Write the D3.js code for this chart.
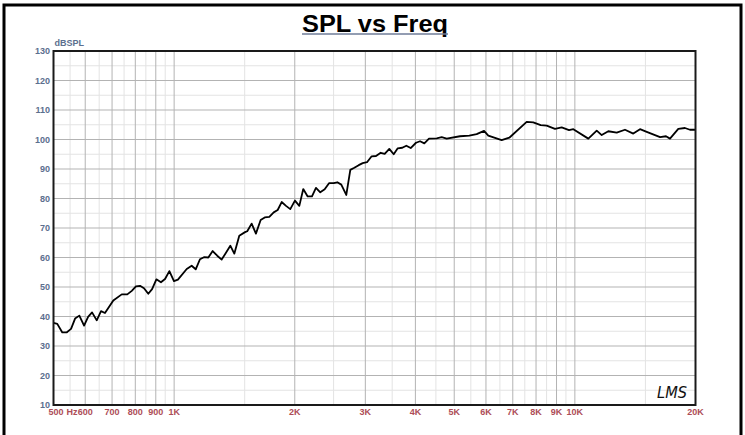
<!DOCTYPE html>
<html>
<head>
<meta charset="utf-8">
<script src="https://cdn.jsdelivr.net/npm/d3@7"></script>
<style>
  body { margin: 0; background: #fff; }
  svg { display: block; font-family: "Liberation Sans", Arial, sans-serif; }
</style>
</head>
<body>
<svg id="chart" width="745" height="435"></svg>
<script>
const freq = [500,511,526,539,553,566,580,596,610,624,
  641,657,672,705,740,764,784,803,822,841,
  862,881,903,927,949,973,999,1022,1075,1106,
  1132,1160,1187,1217,1248,1281,1314,1347,1381,1413,
  1454,1503,1522,1561,1600,1644,1683,1728,1772,1813,
  1855,1902,1949,2002,2053,2100,2154,2208,2259,2316,
  2375,2435,2502,2554,2613,2689,2752,2816,2888,2955,
  3029,3111,3190,3277,3353,3443,3531,3614,3710,3797,
  3893,4014,4108,4211,4325,4521,4653,4788,5168,5452,
  5688,5934,6081,6567,6861,7581,7874,8217,8505,8920,
  9271,9668,9912,10804,11338,11668,12119,12718,13338,13990,
  14540,15110,16316,16881,17273,18118,18822,19373,20000];
const spl = [37.8,37.5,34.6,34.6,35.8,39.3,40.3,36.9,39.9,41.4,
  38.7,41.8,41.2,45.4,47.5,47.5,48.7,50.2,50.4,49.6,
  47.7,49.3,52.6,51.6,52.7,55.4,52.0,52.5,56.1,57.2,
  56.0,59.4,60.1,60.0,62.2,60.6,59.3,61.6,64.0,61.3,
  67.4,68.6,68.9,71.5,68.1,72.7,73.6,73.8,75.3,76.1,
  78.8,77.5,76.4,79.3,77.5,83.2,80.7,80.7,83.6,82.1,
  83.1,85.2,85.2,85.5,84.7,81.2,89.7,90.4,91.3,92.0,
  92.3,94.3,94.4,95.5,95.1,96.8,95.0,97.0,97.2,97.9,
  97.1,98.9,99.4,98.7,100.3,100.4,100.8,100.3,101.1,101.3,
  101.8,102.9,101.3,99.8,100.6,106.0,105.8,104.9,104.7,103.6,
  104.1,103.2,103.5,100.3,103.0,101.5,102.8,102.3,103.3,102.0,
  103.5,102.6,100.8,101.1,100.3,103.6,103.9,103.3,103.3];

const xMajor = [500,600,700,800,900,1000,2000,3000,4000,5000,6000,7000,8000,9000,10000,20000];
const xLabels = ["500","600","700","800","900","1K","2K","3K","4K","5K","6K","7K","8K","9K","10K","20K"];
const xMinor = [550,650,750,850,950,1500,2500,3500,4500,5500,6500,7500,8500,9500,15000];
const yMajor = d3.range(10, 131, 10);
const yMinor = d3.range(15, 130, 10);

const svg = d3.select("#chart");
const plotL = 53.5, plotR = 695.5, plotT = 51, plotB = 405;

const x = d3.scaleLog().domain([500, 20000]).range([plotL, plotR]);
const y = d3.scaleLinear().domain([10, 130]).range([plotB, plotT]);

// outer frame
svg.append("rect")
    .attr("x", 4).attr("y", 5)
    .attr("width", 737).attr("height", 440)
    .attr("fill", "none")
    .attr("stroke", "#000")
    .attr("stroke-width", 3);

// grid
const grid = svg.append("g");
grid.selectAll(".vminor").data(xMinor).join("line")
    .attr("x1", d => x(d)).attr("x2", d => x(d))
    .attr("y1", plotT).attr("y2", plotB)
    .attr("stroke", "#e3e3e3");
grid.selectAll(".hminor").data(yMinor).join("line")
    .attr("x1", plotL).attr("x2", plotR)
    .attr("y1", d => y(d)).attr("y2", d => y(d))
    .attr("stroke", "#e3e3e3");
grid.selectAll(".vmajor").data(xMajor).join("line")
    .attr("x1", d => x(d)).attr("x2", d => x(d))
    .attr("y1", plotT).attr("y2", plotB)
    .attr("stroke", "#b3b3b3");
grid.selectAll(".hmajor").data(yMajor).join("line")
    .attr("x1", plotL).attr("x2", plotR)
    .attr("y1", d => y(d)).attr("y2", d => y(d))
    .attr("stroke", "#b3b3b3");

// curve
const line = d3.line()
    .x((d, i) => x(freq[i]))
    .y(d => y(d));
svg.append("path")
    .datum(spl)
    .attr("d", line)
    .attr("fill", "none")
    .attr("stroke", "#000")
    .attr("stroke-width", 1.8)
    .attr("stroke-linejoin", "round");

// plot border
svg.append("rect")
    .attr("x", plotL).attr("y", plotT)
    .attr("width", plotR - plotL).attr("height", plotB - plotT)
    .attr("fill", "none")
    .attr("stroke", "#1a1a1a")
    .attr("stroke-width", 2);

// y labels
svg.selectAll(".ylab").data(yMajor).join("text")
    .attr("x", 50)
    .attr("y", d => y(d) + 3)
    .attr("text-anchor", "end")
    .attr("font-size", 9)
    .attr("font-weight", "bold")
    .attr("fill", "#5c6f8e")
    .text(d => d);

svg.append("text")
    .attr("x", plotL + 1).attr("y", 46)
    .attr("font-size", 9)
    .attr("font-weight", "bold")
    .attr("fill", "#5c6f8e")
    .text("dBSPL");

// x labels
svg.selectAll(".xlab").data(xMajor).join("text")
    .attr("x", (d, i) => i === 0 ? x(d) + 2.5 : x(d))
    .attr("y", 415)
    .attr("text-anchor", "middle")
    .attr("font-size", 9)
    .attr("font-weight", "bold")
    .attr("fill", "#ad4d57")
    .text((d, i) => xLabels[i]);

svg.append("text")
    .attr("x", 77.5).attr("y", 415)
    .attr("text-anchor", "end")
    .attr("font-size", 9)
    .attr("font-weight", "bold")
    .attr("fill", "#ad4d57")
    .text("Hz");

// title
svg.append("text")
    .attr("x", 375).attr("y", 31.5)
    .attr("text-anchor", "middle")
    .attr("font-size", 24)
    .attr("font-weight", "bold")
    .attr("textLength", 146)
    .attr("lengthAdjust", "spacingAndGlyphs")
    .attr("fill", "#000")
    .text("SPL vs Freq");
svg.append("line")
    .attr("x1", 302).attr("x2", 448)
    .attr("y1", 34).attr("y2", 34)
    .attr("stroke", "#6f7d98")
    .attr("stroke-width", 1.5);

// LMS mark
svg.append("text")
    .attr("x", 657).attr("y", 398)
    .attr("font-size", 15)
    .attr("font-style", "italic")
    .attr("font-family", "DejaVu Sans")
    .attr("font-weight", 200)
    .attr("textLength", 30)
    .attr("lengthAdjust", "spacingAndGlyphs")
    .attr("fill", "#111")
    .text("LMS");
</script>
</body>
</html>
